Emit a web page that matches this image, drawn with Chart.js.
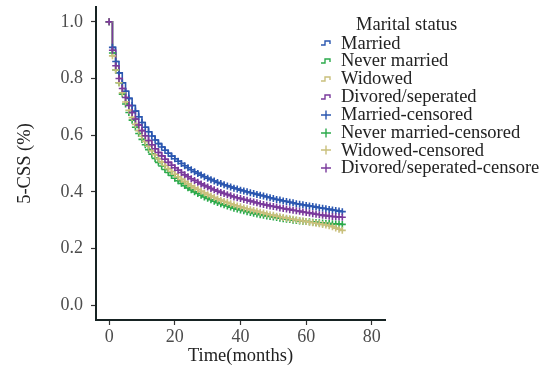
<!DOCTYPE html>
<html>
<head>
<meta charset="utf-8">
<script src="https://cdn.jsdelivr.net/npm/chart.js@4"></script>
<style>
  body { margin: 0; background: #fff; }
  #wrap { position: relative; width: 548px; height: 370px; }
  #legend {
    position: absolute; left: 320px; top: 14px;
    font-family: "Liberation Serif", serif; font-size: 18.5px; color: #222;
  }
  #legend .title { margin-left: 36px; height: 20px; line-height: 20px; margin-bottom: 0.5px; }
  #legend .row { display: flex; align-items: center; height: 17.85px; line-height: 17.85px; white-space: nowrap; }
  #legend svg { width: 12px; height: 10px; margin-right: 9px; }
</style>
</head>
<body>
<div id="wrap">
  <canvas id="km" width="548" height="370"></canvas>
  <div id="legend"></div>
</div>
<script>
const months = [0, 1, 2, 3, 4, 5, 6, 7, 8, 9, 10, 11, 12, 13, 14, 15, 16, 17, 18, 19,
  20, 21, 22, 23, 24, 25, 26, 27, 28, 29, 30, 31, 32, 33, 34, 35, 36, 37, 38, 39,
  40, 41, 42, 43, 44, 45, 46, 47, 48, 49, 50, 51, 52, 53, 54, 55, 56, 57, 58, 59,
  60, 61, 62, 63, 64, 65, 66, 67, 68, 69, 70, 71];

const married = [1.00, 0.91, 0.86, 0.82, 0.785, 0.755, 0.73, 0.705, 0.685, 0.665,
  0.645, 0.628, 0.612, 0.597, 0.583, 0.57, 0.558, 0.547, 0.536, 0.526,
  0.517, 0.508, 0.50, 0.492, 0.485, 0.478, 0.471, 0.465, 0.459, 0.453,
  0.448, 0.443, 0.438, 0.433, 0.429, 0.425, 0.421, 0.417, 0.413, 0.41,
  0.406, 0.403, 0.40, 0.397, 0.394, 0.391, 0.388, 0.385, 0.382, 0.379,
  0.376, 0.373, 0.371, 0.368, 0.366, 0.363, 0.361, 0.358, 0.356, 0.354,
  0.352, 0.35, 0.348, 0.346, 0.344, 0.342, 0.34, 0.338, 0.336, 0.334, 0.332, 0.33];

const neverMarried = [1.00, 0.89, 0.83, 0.785, 0.745, 0.71, 0.68, 0.653, 0.628, 0.606,
  0.585, 0.566, 0.549, 0.533, 0.518, 0.504, 0.491, 0.479, 0.468, 0.458,
  0.448, 0.439, 0.43, 0.422, 0.414, 0.407, 0.40, 0.394, 0.388, 0.382,
  0.377, 0.372, 0.367, 0.362, 0.358, 0.354, 0.35, 0.346, 0.342, 0.339,
  0.336, 0.333, 0.33, 0.327, 0.324, 0.322, 0.319, 0.317, 0.315, 0.313,
  0.311, 0.309, 0.307, 0.305, 0.303, 0.302, 0.30, 0.299, 0.297, 0.296,
  0.295, 0.294, 0.293, 0.292, 0.291, 0.29, 0.289, 0.288, 0.287, 0.286, 0.286, 0.285];

const widowed = [1.00, 0.88, 0.83, 0.785, 0.75, 0.717, 0.688, 0.662, 0.638, 0.616,
  0.596, 0.578, 0.561, 0.545, 0.531, 0.517, 0.505, 0.493, 0.482, 0.472,
  0.462, 0.453, 0.444, 0.436, 0.428, 0.421, 0.414, 0.408, 0.402, 0.396,
  0.39, 0.385, 0.38, 0.375, 0.37, 0.366, 0.362, 0.358, 0.354, 0.35,
  0.347, 0.343, 0.34, 0.337, 0.334, 0.331, 0.328, 0.325, 0.322, 0.319,
  0.317, 0.314, 0.312, 0.309, 0.307, 0.305, 0.303, 0.301, 0.299, 0.297,
  0.295, 0.293, 0.291, 0.289, 0.287, 0.285, 0.283, 0.28, 0.277, 0.272, 0.268, 0.264];

const divorced = [1.00, 0.90, 0.845, 0.80, 0.765, 0.733, 0.705, 0.68, 0.657, 0.636,
  0.616, 0.598, 0.581, 0.566, 0.552, 0.539, 0.527, 0.515, 0.504, 0.494,
  0.485, 0.476, 0.468, 0.46, 0.453, 0.446, 0.44, 0.434, 0.428, 0.422,
  0.417, 0.412, 0.407, 0.402, 0.398, 0.394, 0.39, 0.386, 0.382, 0.379,
  0.376, 0.373, 0.37, 0.367, 0.364, 0.361, 0.358, 0.355, 0.353, 0.35,
  0.348, 0.346, 0.343, 0.341, 0.339, 0.337, 0.335, 0.333, 0.331, 0.329,
  0.327, 0.325, 0.323, 0.321, 0.319, 0.317, 0.316, 0.314, 0.313, 0.312, 0.311, 0.31];

const groups = ["Married", "Never married", "Widowed", "Divored/seperated"];
const censorLabels = ["Married-censored", "Never married-censored", "Widowed-censored",
  "Divored/seperated-censore"];
const groupValues = [married, neverMarried, widowed, divorced];
const colors = ["#2b57b0", "#2caa4c", "#c9c07c", "#7a3a9c"];
const xTicks = [0, 20, 40, 60, 80];
const yTicks = [0, 0.2, 0.4, 0.6, 0.8, 1.0];

const font = "'Liberation Serif', serif";
const axisColor = "#172323";

function points(values) {
  return months.map((m, i) => ({ x: m, y: values[i] }));
}

// later groups sit on top, as in the ggplot output
const datasets = [];
groups.forEach((g, i) => {
  datasets.push({
    label: g,
    data: points(groupValues[i]),
    borderColor: colors[i],
    borderWidth: 1.6,
    stepped: true,
    pointRadius: 0,
    fill: false,
    order: 10 - i,
  });
});
censorLabels.forEach((g, i) => {
  datasets.push({
    label: g,
    data: points(groupValues[i]),
    showLine: false,
    pointStyle: "cross",
    pointRadius: 3.5,
    pointBorderWidth: 1.6,
    pointBorderColor: colors[i],
    borderColor: colors[i],
    order: 4 - i,
  });
});

new Chart(document.getElementById("km"), {
  type: "line",
  data: { datasets },
  options: {
    responsive: false,
    animation: false,
    layout: { padding: { left: 0, right: 163, top: 7, bottom: 0 } },
    plugins: { legend: { display: false }, tooltip: { enabled: false } },
    scales: {
      x: {
        type: "linear",
        min: -4,
        max: 84,
        afterBuildTicks: (s) => { s.ticks = xTicks.map((v) => ({ value: v })); },
        afterFit: (s) => { s.height = 50; s.paddingLeft = 0; s.paddingRight = 0; },
        grid: { drawOnChartArea: false, tickLength: 5, tickColor: "#333", tickWidth: 1.2 },
        border: { display: true, color: axisColor, width: 2 },
        ticks: { color: "#4d4d4d", font: { family: font, size: 18 }, padding: 1, maxRotation: 0 },
        title: {
          display: true, text: "Time(months)", color: "#222",
          font: { family: font, size: 18.5 }, padding: { top: 0, bottom: 3 },
        },
      },
      y: {
        min: -0.0525,
        max: 1.0525,
        afterBuildTicks: (s) => { s.ticks = yTicks.map((v) => ({ value: v })); },
        afterFit: (s) => { s.width = 96; s.paddingTop = 0; s.paddingBottom = 0; },
        grid: { drawOnChartArea: false, tickLength: 5, tickColor: "#333", tickWidth: 1.2 },
        border: { display: true, color: axisColor, width: 2 },
        ticks: {
          color: "#4d4d4d", font: { family: font, size: 18 }, padding: 8,
          callback: (v) => v.toFixed(1),
        },
        title: {
          display: true, text: "5-CSS (%)", color: "#222",
          font: { family: font, size: 18.5 }, padding: { top: 14, bottom: 0 },
        },
      },
    },
  },
});

// legend drawn as html on top of the plot, like the ggplot one
const legend = document.getElementById("legend");
let html = '<div class="title">Marital status</div>';
groups.forEach((g, i) => {
  html += '<div class="row"><svg viewBox="0 0 12 10"><path d="M1 7 H5 V3 H10 V6" fill="none" stroke="' +
    colors[i] + '" stroke-width="1.4"/></svg>' + g + "</div>";
});
censorLabels.forEach((g, i) => {
  html += '<div class="row"><svg viewBox="0 0 12 10"><path d="M1 5 H11 M6 0.5 V9.5" fill="none" stroke="' +
    colors[i] + '" stroke-width="1.4"/></svg>' + g + "</div>";
});
legend.innerHTML = html;
</script>
</body>
</html>
